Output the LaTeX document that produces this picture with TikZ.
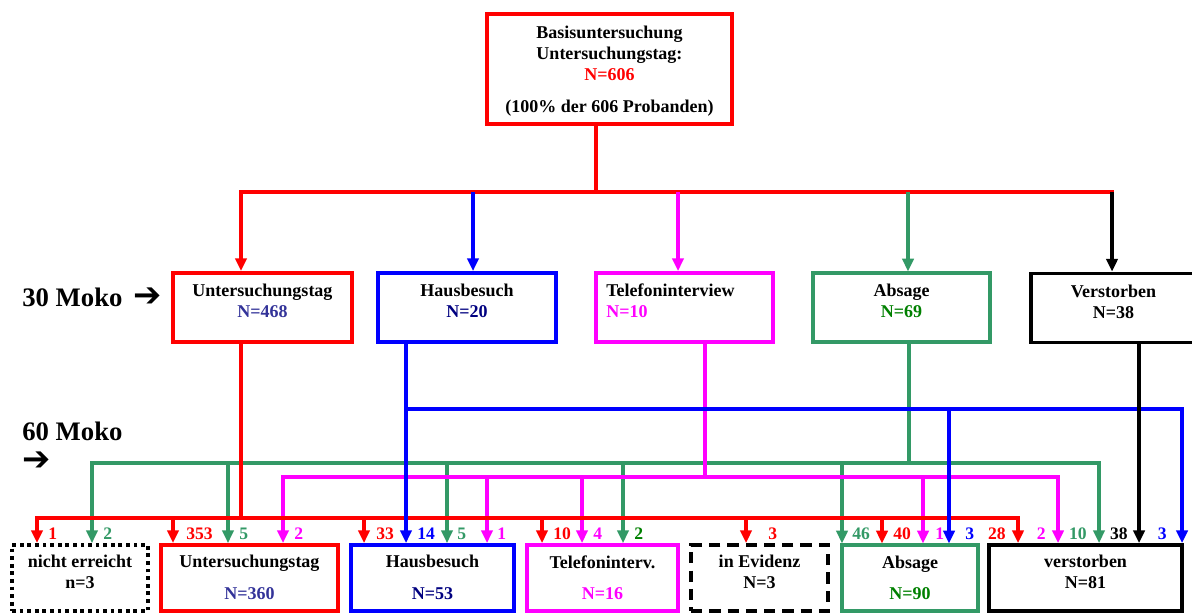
\documentclass[tikz,border=0pt]{standalone}
\usepackage{fontspec}
\setmainfont{Liberation Serif}
\newfontfamily\arrowfont{DejaVu Sans}
\usetikzlibrary{positioning,arrows.meta}

\definecolor{mokored}{HTML}{FF0000}
\definecolor{mokoblue}{HTML}{0000FF}
\definecolor{mokomag}{HTML}{FF00FF}
\definecolor{mokogreen}{HTML}{339966}
\definecolor{darkgreen}{HTML}{008000}
\definecolor{navy}{HTML}{000080}
\definecolor{slate}{HTML}{333399}

\begin{document}
\begin{tikzpicture}[x=0.025cm, y=-0.025cm,
  box/.style={draw, line width=2.7pt, inner sep=0pt, minimum height=1.725cm},
  lowbox/.style={box, minimum height=1.65cm},
  txt/.style={font=\bfseries\fontsize{12.8}{15}\selectfont, align=center, inner sep=0pt},
  lbl/.style={font=\bfseries\fontsize{12.5}{15}\selectfont, inner sep=0pt},
  moko/.style={font=\bfseries\fontsize{19}{22}\selectfont, inner sep=0pt},
  mokoarrow/.style={font=\arrowfont\fontsize{24}{26}\selectfont, inner sep=0pt},
  link/.style={line width=2.3pt},
  glink/.style={link, mokogreen, line width=2.2pt},
  flow/.style={link, -{Triangle[length=9pt,width=8pt]}}]

  \useasboundingbox (0,0) rectangle (1192,613);

  % Basisuntersuchung
  \node[box, draw=mokored, minimum width=6.125cm, minimum height=2.75cm] (basis) at (609.5,69) {};
  \node[txt, below=9.5pt of basis.north] (basist) {Basisuntersuchung\\Untersuchungstag:\\\textcolor{mokored}{N=606}\\[8pt](100\% der 606 Probanden)};

  % 30 Moko
  \node[moko, anchor=base west] (m30) at (22,306) {30 Moko};
  \node[mokoarrow, anchor=base west] (m30a) at (133,306) {➔};
  \node[box, draw=mokored, minimum width=4.475cm] (u30) at (262.5,307.5) {};
  \node[txt, below=9pt of u30.north] (u30t) {Untersuchungstag\\\textcolor{slate}{N=468}};
  \node[box, draw=mokoblue, minimum width=4.45cm] (h30) at (467,307.5) {};
  \node[txt, below=9pt of h30.north] (h30t) {Hausbesuch\\\textcolor{navy}{N=20}};
  \node[box, draw=mokomag, minimum width=4.425cm] (t30) at (684.5,307.5) {};
  \node[txt, align=left, below right=9pt and 8.5pt of t30.north west] (t30t) {Telefoninterview\\\textcolor{mokomag}{N=10}};
  \node[box, draw=mokogreen, line width=2.3pt, minimum width=4.425cm] (a30) at (901.5,307.5) {};
  \node[txt, below=9pt of a30.north] (a30t) {Absage\\\textcolor{darkgreen}{N=69}};
  \node[box, minimum width=4.125cm] (v30) at (1113.5,308) {};
  \node[txt, below=9pt of v30.north] (v30t) {Verstorben\\N=38};

  % 60 Moko
  \node[moko, anchor=base west] (m60) at (22,440) {60 Moko};
  \node[mokoarrow, anchor=base west] (m60a) at (22,470) {➔};
  \node[lowbox, dash pattern=on 2.7pt off 2.7pt, minimum width=3.4cm] (ne) at (80,578) {};
  \node[txt, below=8.5pt of ne.north] (net) {nicht erreicht\\n=3};
  \node[lowbox, draw=mokored, minimum width=4.425cm] (u60) at (249.5,578) {};
  \node[txt, below=8.5pt of u60.north] (u60t) {Untersuchungstag\\[7.5pt]\textcolor{slate}{N=360}};
  \node[lowbox, draw=mokoblue, minimum width=4.075cm] (h60) at (432.5,578) {};
  \node[txt, below=8.5pt of h60.north] (h60t) {Hausbesuch\\[7.5pt]\textcolor{navy}{N=53}};
  \node[lowbox, draw=mokomag, minimum width=3.775cm] (t60) at (602.5,578) {};
  \node[txt, below=8.5pt of t60.north] (t60t) {Telefoninterv.\\[7.5pt]\textcolor{mokomag}{N=16}};
  \node[lowbox, dash pattern=on 8pt off 5pt, minimum width=3.425cm] (ev) at (759.5,578) {};
  \node[txt, below=8.5pt of ev.north] (evt) {in Evidenz\\N=3};
  \node[lowbox, draw=mokogreen, line width=2.3pt, minimum width=3.4cm] (a60) at (910,578) {};
  \node[txt, below=8.5pt of a60.north] (a60t) {Absage\\[7.5pt]\textcolor{darkgreen}{N=90}};
  \node[lowbox, minimum width=4.825cm] (v60) at (1085.5,578) {};
  \node[txt, below=8.5pt of v60.north] (v60t) {verstorben\\N=81};

  % Basis -> 30 Moko
  \draw[link, mokored] (596,0 |- basis.south) -- (596,192);
  \draw[link, mokored, line cap=rect] (241,192) -- (1112,192);
  \foreach \x/\b/\c in {241/u30/mokored, 473/h30/mokoblue, 678/t30/mokomag, 908/a30/mokogreen, 1112/v30/black}
    \draw[flow, \c] (\x,192) -- (\x,0 |- \b.north);

  % 30 Moko -> 60 Moko
  \draw[glink] (909,0 |- a30.south) -- (909,463);
  \draw[glink, line cap=rect] (92,463) -- (1099,463);
  \foreach \x/\b/\n/\lx/\a/\c [count=\i] in {92/ne/2/103/west/mokogreen, 228/u60/5/239/west/mokogreen, 447/h60/5/457/west/mokogreen, 623/t60/2/634/west/darkgreen, 842/a60/46/852/west/mokogreen, 1099/v60/10/1087/east/mokogreen} {
    \draw[flow, glink] (\x,463) -- (\x,0 |- \b.north);
    \node[lbl, text=\c, anchor=base \a] (g\i) at (\lx,539) {\n};
  }

  \draw[link, mokomag] (705,0 |- t30.south) -- (705,477);
  \draw[link, mokomag, line cap=rect] (283,477) -- (1058,477);
  \foreach \x/\b/\n/\lx/\a [count=\i] in {283/u60/2/294/west, 487/h60/1/497/west, 582/t60/4/593/west, 923/a60/1/935/west, 1058/v60/2/1046/east} {
    \draw[flow, mokomag] (\x,477) -- (\x,0 |- \b.north);
    \node[lbl, text=mokomag, anchor=base \a] (m\i) at (\lx,539) {\n};
  }

  \draw[link, mokored] (241,0 |- u30.south) -- (241,518);
  \draw[link, mokored, line cap=rect] (37,518) -- (1018,518);
  \foreach \x/\b/\n/\lx/\a [count=\i] in {37/ne/1/48/west, 173/u60/353/186/west, 364/h60/33/376/west, 542/t60/10/553/west, 746/ev/3/768/west, 882/a60/40/893/west, 1018/v60/28/1006/east} {
    \draw[flow, mokored] (\x,518) -- (\x,0 |- \b.north);
    \node[lbl, text=mokored, anchor=base \a] (r\i) at (\lx,539) {\n};
  }

  \draw[flow, mokoblue, line width=2.6pt] (406,0 |- h30.south) -- (406,0 |- h60.north);
  \node[lbl, text=mokoblue, anchor=base west] (b0) at (417,539) {14};
  \draw[link, mokoblue, line width=2.6pt, line cap=rect] (406,409) -- (1182,409);
  \foreach \x/\b/\n/\lx/\a [count=\i] in {949/a60/3/965/west, 1182/v60/3/1167/east} {
    \draw[flow, mokoblue, line width=2.6pt] (\x,409) -- (\x,0 |- \b.north);
    \node[lbl, text=mokoblue, anchor=base \a] (b\i) at (\lx,539) {\n};
  }

  \draw[flow] (1139,0 |- v30.south) -- (1139,0 |- v60.north);
  \node[lbl, anchor=base east] (k1) at (1128,539) {38};
\end{tikzpicture}
\end{document}
